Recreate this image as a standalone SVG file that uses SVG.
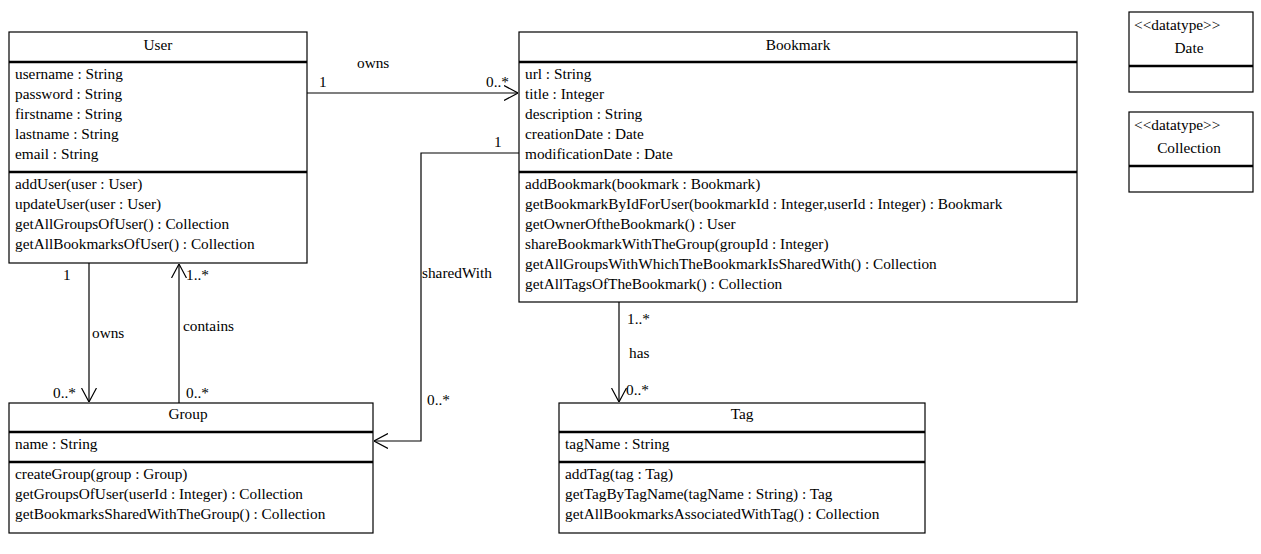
<svg xmlns="http://www.w3.org/2000/svg" width="1261" height="554" viewBox="0 0 1261 554">
  <style>
    text { font-family: "Liberation Serif", "Times New Roman", serif; font-size: 15.3px; fill: #000; }
    .title { text-anchor: middle; }
    .box { fill: #fff; stroke: #000; stroke-width: 1.2; }
    .sep { stroke: #000; stroke-width: 2.6; }
    .edge { fill: none; stroke: #000; stroke-width: 1.2; }
  </style>
  <defs>
    <marker id="open" viewBox="0 0 14 16" refX="14" refY="8" markerWidth="14" markerHeight="16" markerUnits="userSpaceOnUse" orient="auto">
      <path d="M0,0.5 L14,8 L0,15.5" fill="none" stroke="#000" stroke-width="1.2"/>
    </marker>
  </defs>
  <rect width="1261" height="554" fill="#fff"/>

  <!-- associations -->
  <g id="connectors">
    <path class="edge" d="M307,93 H518" marker-end="url(#open)"/>
    <path class="edge" d="M519,153 H421 V441 H374" marker-end="url(#open)"/>
    <path class="edge" d="M89,263 V402" marker-end="url(#open)"/>
    <path class="edge" d="M179,403 V264" marker-end="url(#open)"/>
    <path class="edge" d="M619,302 V402" marker-end="url(#open)"/>
    <text x="357" y="68">owns</text>
    <text x="319" y="87">1</text>
    <text x="486" y="87">0..*</text>
    <text x="494" y="147">1</text>
    <text x="422" y="278">sharedWith</text>
    <text x="427" y="405">0..*</text>
    <text x="63" y="280">1</text>
    <text x="92" y="338">owns</text>
    <text x="53" y="398">0..*</text>
    <text x="186" y="280">1..*</text>
    <text x="183" y="331">contains</text>
    <text x="186" y="398">0..*</text>
    <text x="627" y="324">1..*</text>
    <text x="629" y="358">has</text>
    <text x="626" y="395">0..*</text>
  </g>

  <g id="user">
    <rect class="box" x="9" y="32" width="298" height="231"/>
    <line class="sep" x1="9" y1="62" x2="307" y2="62"/>
    <line class="sep" x1="9" y1="172" x2="307" y2="172"/>
    <text class="title" x="158" y="50">User</text>
    <text x="15" y="79">username : String</text>
    <text x="15" y="99">password : String</text>
    <text x="15" y="119">firstname : String</text>
    <text x="15" y="139">lastname : String</text>
    <text x="15" y="159">email : String</text>
    <text x="15" y="189">addUser(user : User)</text>
    <text x="15" y="209">updateUser(user : User)</text>
    <text x="15" y="229">getAllGroupsOfUser() : Collection</text>
    <text x="15" y="249">getAllBookmarksOfUser() : Collection</text>
  </g>

  <g id="bookmark">
    <rect class="box" x="519" y="32" width="558" height="270"/>
    <line class="sep" x1="519" y1="62" x2="1077" y2="62"/>
    <line class="sep" x1="519" y1="172" x2="1077" y2="172"/>
    <text class="title" x="798" y="50">Bookmark</text>
    <text x="525" y="79">url : String</text>
    <text x="525" y="99">title : Integer</text>
    <text x="525" y="119">description : String</text>
    <text x="525" y="139">creationDate : Date</text>
    <text x="525" y="159">modificationDate : Date</text>
    <text x="525" y="189">addBookmark(bookmark : Bookmark)</text>
    <text x="525" y="209">getBookmarkByIdForUser(bookmarkId : Integer,userId : Integer) : Bookmark</text>
    <text x="525" y="229">getOwnerOftheBookmark() : User</text>
    <text x="525" y="249">shareBookmarkWithTheGroup(groupId : Integer)</text>
    <text x="525" y="269">getAllGroupsWithWhichTheBookmarkIsSharedWith() : Collection</text>
    <text x="525" y="289">getAllTagsOfTheBookmark() : Collection</text>
  </g>

  <g id="date">
    <rect class="box" x="1129" y="12" width="124" height="80"/>
    <line class="sep" x1="1129" y1="66" x2="1253" y2="66"/>
    <text x="1134" y="30">&lt;&lt;datatype&gt;&gt;</text>
    <text class="title" x="1189" y="53">Date</text>
  </g>

  <g id="collection">
    <rect class="box" x="1129" y="112" width="124" height="80"/>
    <line class="sep" x1="1129" y1="166" x2="1253" y2="166"/>
    <text x="1134" y="130">&lt;&lt;datatype&gt;&gt;</text>
    <text class="title" x="1189" y="153">Collection</text>
  </g>

  <g id="group">
    <rect class="box" x="9" y="403" width="364" height="130"/>
    <line class="sep" x1="9" y1="432" x2="373" y2="432"/>
    <line class="sep" x1="9" y1="462" x2="373" y2="462"/>
    <text class="title" x="188" y="419">Group</text>
    <text x="15" y="449">name : String</text>
    <text x="15" y="479">createGroup(group : Group)</text>
    <text x="15" y="499">getGroupsOfUser(userId : Integer) : Collection</text>
    <text x="15" y="519">getBookmarksSharedWithTheGroup() : Collection</text>
  </g>

  <g id="tag">
    <rect class="box" x="559" y="403" width="366" height="130"/>
    <line class="sep" x1="559" y1="432" x2="925" y2="432"/>
    <line class="sep" x1="559" y1="462" x2="925" y2="462"/>
    <text class="title" x="742" y="419">Tag</text>
    <text x="565" y="449">tagName : String</text>
    <text x="565" y="479">addTag(tag : Tag)</text>
    <text x="565" y="499">getTagByTagName(tagName : String) : Tag</text>
    <text x="565" y="519">getAllBookmarksAssociatedWithTag() : Collection</text>
  </g>
</svg>
